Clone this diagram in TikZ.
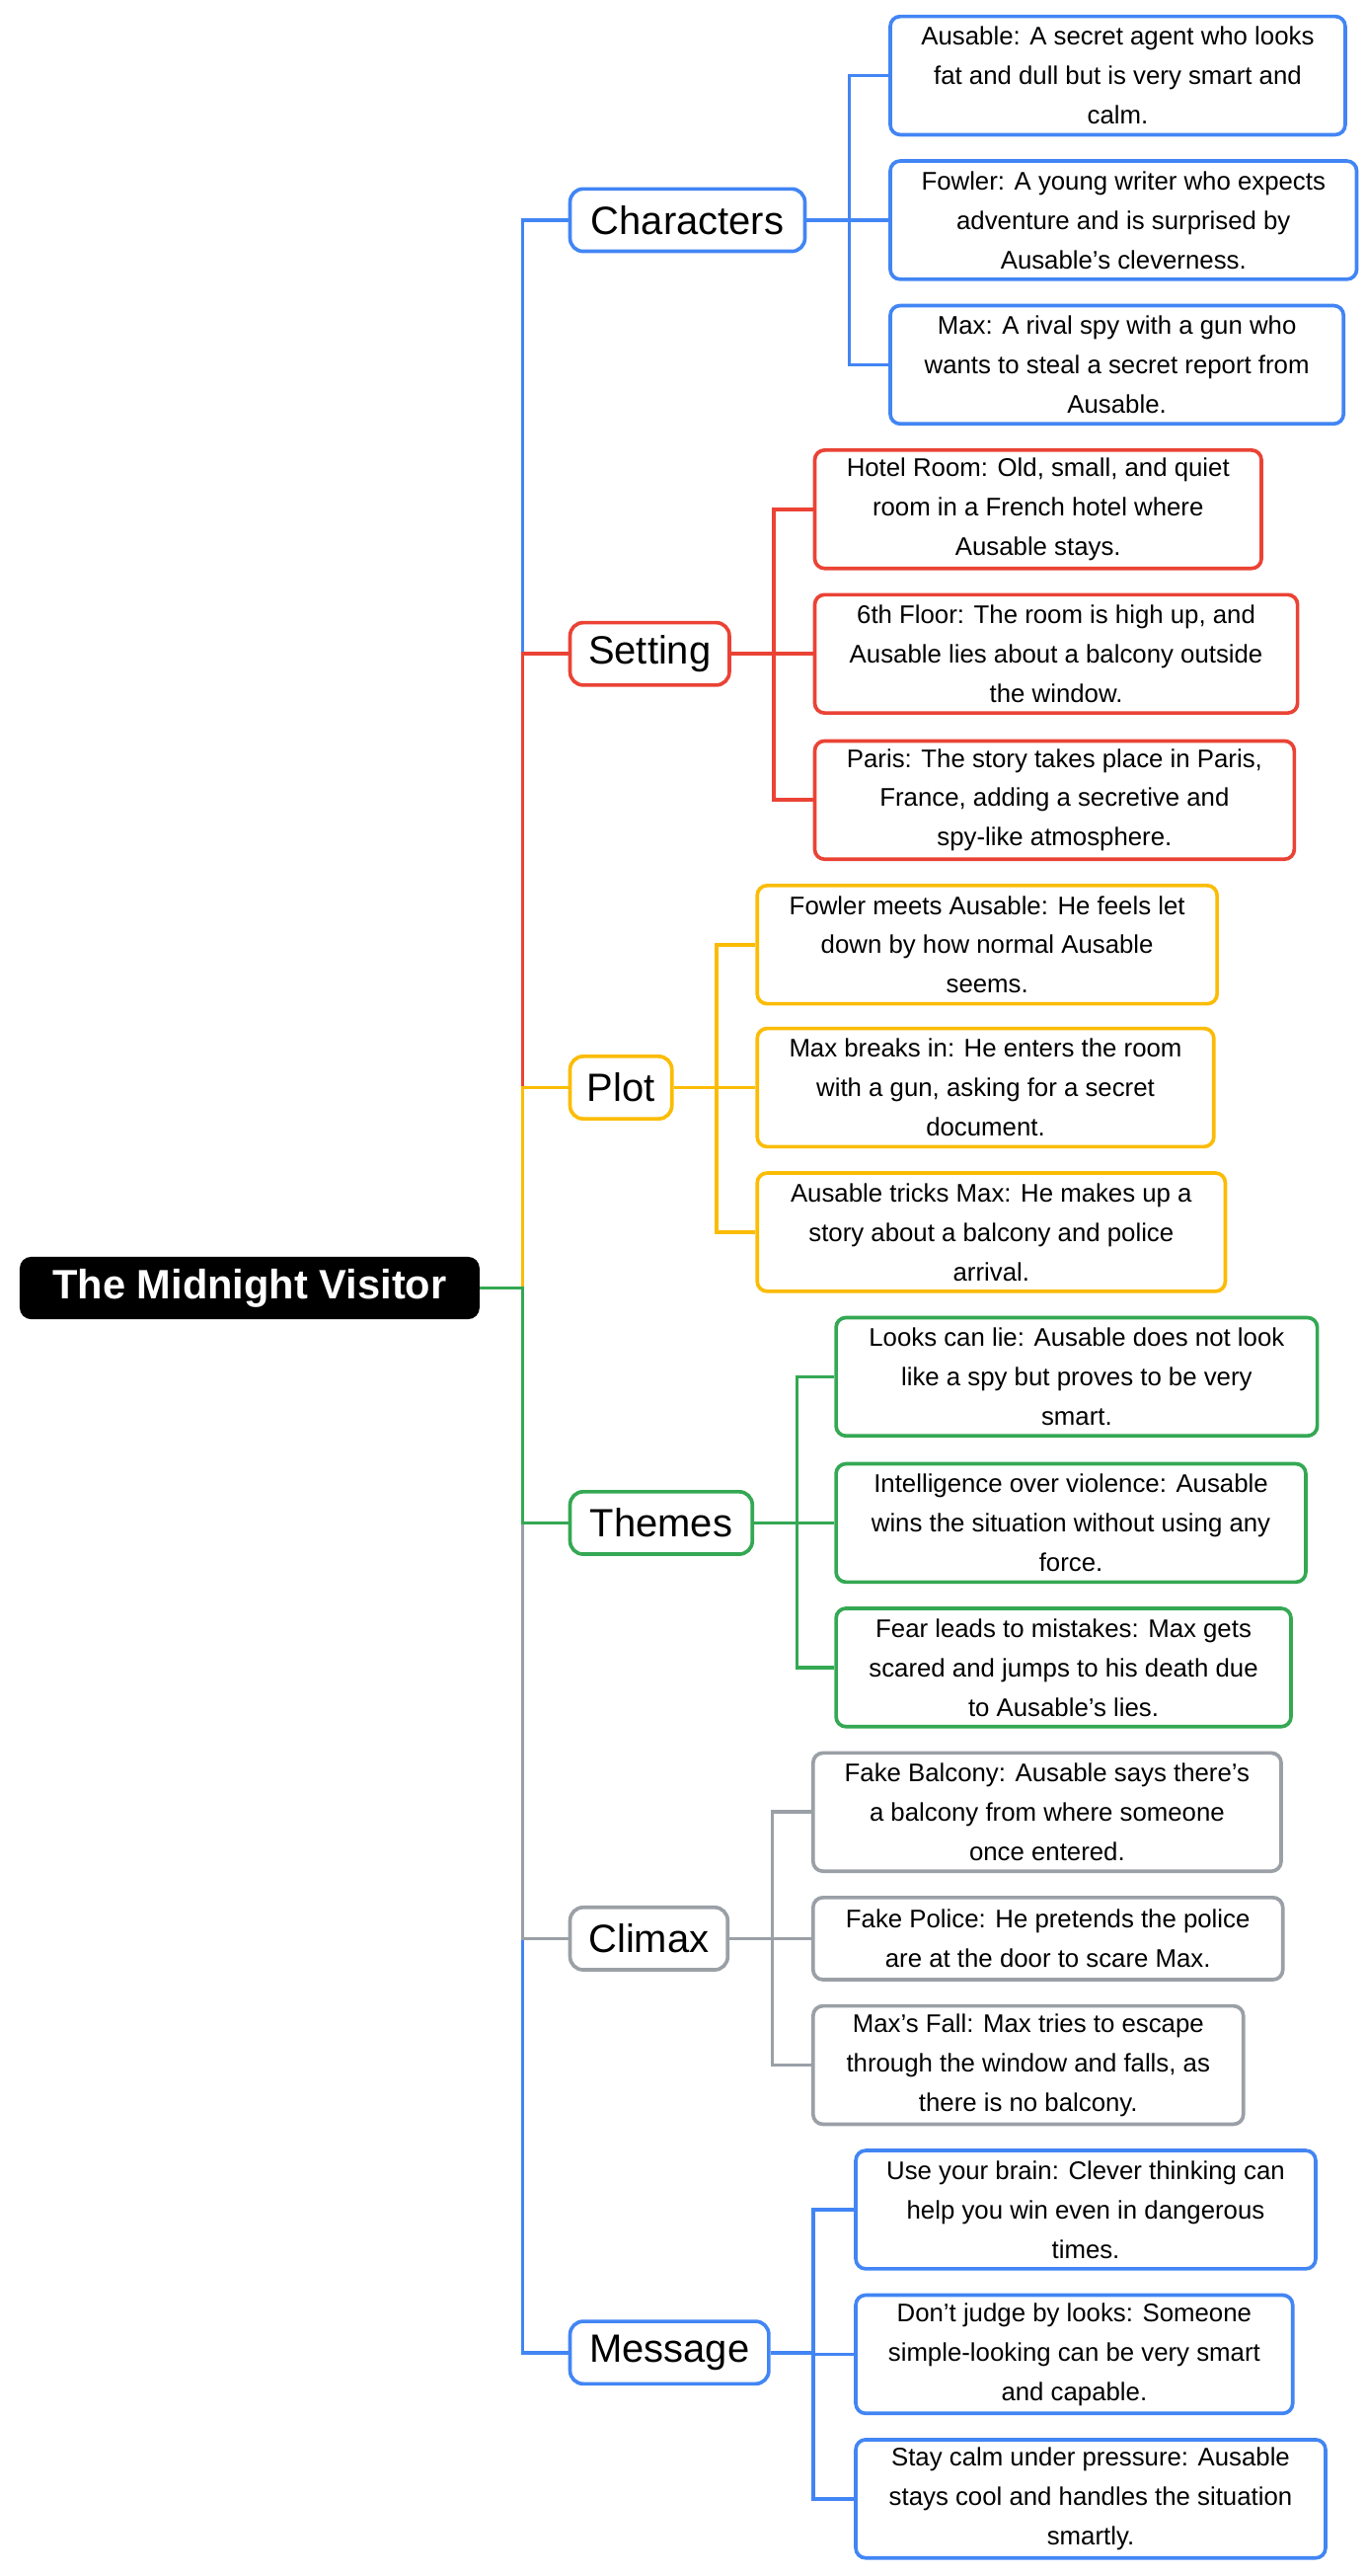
\documentclass[tikz,border=0pt]{standalone}
\usepackage{fontspec}
\setmainfont{Liberation Sans}
\definecolor{cb}{HTML}{4285F4}
\definecolor{cr}{HTML}{EA4335}
\definecolor{cy}{HTML}{FBBC04}
\definecolor{cg}{HTML}{34A853}
\definecolor{cgr}{HTML}{9AA0A6}
\begin{document}
\begin{tikzpicture}[x=1pt,y=-1pt,
 leaf/.style={draw,line width=2.2pt,rounded corners=6pt,fill=white,anchor=west,align=center,minimum height=72pt,inner sep=2pt,font=\fontsize{15.5}{24}\selectfont},
 cat/.style={draw,line width=2.2pt,rounded corners=8pt,fill=white,anchor=west,minimum height=38pt,inner xsep=8pt,font=\fontsize{24}{28}\selectfont},
 ln/.style={line width=2.2pt}]
\useasboundingbox (0,0) rectangle (832,1568);
\node[fill=black,text=white,rounded corners=7pt,minimum width=280pt,minimum height=38pt,font=\fontsize{25}{30}\bfseries\selectfont] (root) at (152,784) {The Midnight Visitor};

\node[cat,draw=cb,minimum width=143pt] (c1) at (346,134) {Characters};
\node[cat,draw=cr,minimum width=97pt] (c2) at (346,398) {Setting};
\node[cat,draw=cy,minimum width=62pt] (c3) at (346,662) {Plot};
\node[cat,draw=cg,minimum width=111pt] (c4) at (346,927) {Themes};
\node[cat,draw=cgr,minimum width=96pt] (c5) at (346,1180) {Climax};
\node[cat,draw=cb,minimum width=121pt] (c6) at (346,1432) {Message};

\node[leaf,draw=cb,minimum width=277pt] (l11) at (541,46) {Ausable: A secret agent who looks\\fat and dull but is very smart and\\calm.};
\node[leaf,draw=cb,minimum width=284pt] (l12) at (541,134) {Fowler: A young writer who expects\\adventure and is surprised by\\Ausable’s cleverness.};
\node[leaf,draw=cb,minimum width=276pt] (l13) at (541,222) {Max: A rival spy with a gun who\\wants to steal a secret report from\\Ausable.};

\node[leaf,draw=cr,minimum width=272pt] (l21) at (495,310) {Hotel Room: Old, small, and quiet\\room in a French hotel where\\Ausable stays.};
\node[leaf,draw=cr,minimum width=294pt] (l22) at (495,398) {6th Floor: The room is high up, and\\Ausable lies about a balcony outside\\the window.};
\node[leaf,draw=cr,minimum width=292pt] (l23) at (495,487) {Paris: The story takes place in Paris,\\France, adding a secretive and\\spy-like atmosphere.};

\node[leaf,draw=cy,minimum width=280pt] (l31) at (460,575) {Fowler meets Ausable: He feels let\\down by how normal Ausable\\seems.};
\node[leaf,draw=cy,minimum width=278pt] (l32) at (460,662) {Max breaks in: He enters the room\\with a gun, asking for a secret\\document.};
\node[leaf,draw=cy,minimum width=285pt] (l33) at (460,750) {Ausable tricks Max: He makes up a\\story about a balcony and police\\arrival.};

\node[leaf,draw=cg,minimum width=293pt] (l41) at (508,838) {Looks can lie: Ausable does not look\\like a spy but proves to be very\\smart.};
\node[leaf,draw=cg,minimum width=286pt] (l42) at (508,927) {Intelligence over violence: Ausable\\wins the situation without using any\\force.};
\node[leaf,draw=cg,minimum width=277pt] (l43) at (508,1015) {Fear leads to mistakes: Max gets\\scared and jumps to his death due\\to Ausable’s lies.};

\node[leaf,draw=cgr,minimum width=285pt] (l51) at (494,1103) {Fake Balcony: Ausable says there's\\a balcony from where someone\\once entered.};
\node[leaf,draw=cgr,minimum width=286pt,minimum height=50pt] (l52) at (494,1180) {Fake Police: He pretends the police\\are at the door to scare Max.};
\node[leaf,draw=cgr,minimum width=262pt] (l53) at (494,1257) {Max’s Fall: Max tries to escape\\through the window and falls, as\\there is no balcony.};

\node[leaf,draw=cb,minimum width=280pt] (l61) at (520,1345) {Use your brain: Clever thinking can\\help you win even in dangerous\\times.};
\node[leaf,draw=cb,minimum width=266pt] (l62) at (520,1433) {Don’t judge by looks: Someone\\simple-looking can be very smart\\and capable.};
\node[leaf,draw=cb,minimum width=286pt] (l63) at (520,1521) {Stay calm under pressure: Ausable\\stays cool and handles the situation\\smartly.};

\begin{scope}[on background layer/.try]
\end{scope}
\draw[ln,cb] (root.east) -- ++(26,0) |- (c1.west);
\draw[ln,cr] (root.east) -- ++(26,0) |- (c2.west);
\draw[ln,cy] (root.east) -- ++(26,0) |- (c3.west);
\draw[ln,cb] (root.east) -- ++(26,0) |- (c6.west);
\draw[ln,cgr] (root.east) -- ++(26,0) |- (c5.west);
\draw[ln,cg] (root.east) -- ++(26,0) |- (c4.west);

\foreach \c/\col in {1/cb,2/cr,3/cy,4/cg,5/cgr,6/cb}{
  \foreach \l in {1,2,3}{
    \draw[ln,\col] (c\c.east) -- ++(26,0) |- (l\c\l.west);
  }
}
\end{tikzpicture}
\end{document}
